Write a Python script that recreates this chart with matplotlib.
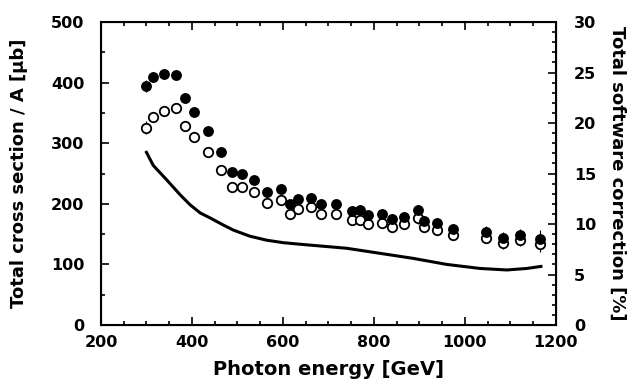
import numpy as np
import matplotlib
matplotlib.use("Agg")
import matplotlib.pyplot as plt
from matplotlib.ticker import MultipleLocator

plt.rcParams['font.family'] = ['DejaVu Sans']
plt.rcParams['font.weight'] = 'bold'

# Data

energy = [300, 314, 339, 365, 385, 405, 436, 464, 488, 511, 537, 566, 596, 615,
          634, 662, 683, 716, 751, 769, 788, 818, 840, 866, 896, 910, 938, 974,
          1046, 1083, 1121, 1165]

sigma_filled = [395, 410, 415, 413, 375, 351, 320, 285, 252, 250, 240, 220, 225, 200,
                208, 210, 199, 199, 188, 189, 181, 183, 175, 178, 189, 172, 169, 158,
                154, 144, 149, 142]

sigma_open = [326, 344, 354, 358, 328, 310, 286, 256, 228, 227, 219, 202, 206, 183,
              191, 194, 183, 183, 174, 174, 167, 168, 162, 166, 176, 161, 157, 149,
              144, 136, 140, 134]

err_filled = [10, 8, 6, 6, 6, 6, 6, 6, 6, 6, 6, 6, 6, 6,
              6, 6, 6, 6, 7, 7, 7, 7, 8, 8, 9, 8, 8, 8,
              9, 10, 10, 14]

err_open = [10, 8, 6, 6, 6, 6, 6, 6, 6, 6, 6, 6, 6, 6,
            6, 6, 6, 6, 7, 7, 7, 7, 8, 8, 9, 8, 8, 8,
            9, 10, 10, 14]

corr_energy = [300, 315, 344, 374, 396, 418, 440, 469, 491, 527, 564, 601, 637,
               740, 813, 886, 960, 1033, 1092, 1136, 1167]
correction = [17.1, 15.8, 14.4, 12.9, 11.9, 11.1, 10.6, 9.9, 9.4, 8.8, 8.4, 8.15, 8.0,
              7.6, 7.1, 6.6, 6.0, 5.6, 5.45, 5.6, 5.8]

fig = plt.figure(figsize=(6.39, 3.81), dpi=100)
ax = fig.add_axes([0.158, 0.147, 0.712, 0.795])

ax.errorbar(energy, sigma_open, yerr=err_open, fmt='o', ms=6.8, mfc='white',
            mec='black', mew=1.3, ecolor='black', elinewidth=0.8, capsize=0)
ax.errorbar(energy, sigma_filled, yerr=err_filled, fmt='o', ms=6.8, mfc='black',
            mec='black', ecolor='black', elinewidth=0.8, capsize=0)

ax.set_xlim(200, 1200)
ax.set_ylim(0, 500)
ax.xaxis.set_major_locator(MultipleLocator(200))
ax.xaxis.set_minor_locator(MultipleLocator(50))
ax.yaxis.set_major_locator(MultipleLocator(100))
ax.yaxis.set_minor_locator(MultipleLocator(50))
ax.tick_params(which='both', direction='in', top=True, right=False,
               labelsize=11.5, width=1.2)
ax.tick_params(axis='x', pad=7)
ax.tick_params(axis='y', pad=12)
ax.tick_params(which='major', length=6)
ax.tick_params(which='minor', length=3)
for s in ax.spines.values():
    s.set_linewidth(1.5)

ax.set_xlabel("Photon energy [GeV]", fontsize=14, fontweight='bold', va='top')
ax.set_ylabel("Total cross section / A [μb]", fontsize=13, fontweight='bold')
ax.xaxis.set_label_coords(0.5, -0.115)
ax.yaxis.set_label_coords(-0.16, 0.5)

ax2 = ax.twinx()
ax2.plot(corr_energy, correction, color='black', lw=2.2)
ax2.set_ylim(0, 30)
ax2.yaxis.set_major_locator(MultipleLocator(5))
ax2.yaxis.set_minor_locator(MultipleLocator(1))
ax2.tick_params(which='both', direction='in', labelsize=11.5, width=1.2, pad=13)
ax2.tick_params(which='major', length=6)
ax2.tick_params(which='minor', length=3)
ax2.set_ylabel("Total software correction [%]", fontsize=13, fontweight='bold',
               rotation=270, va='center')
ax2.yaxis.set_label_coords(1.134, 0.5)

fig.savefig("out.png", dpi=100)
